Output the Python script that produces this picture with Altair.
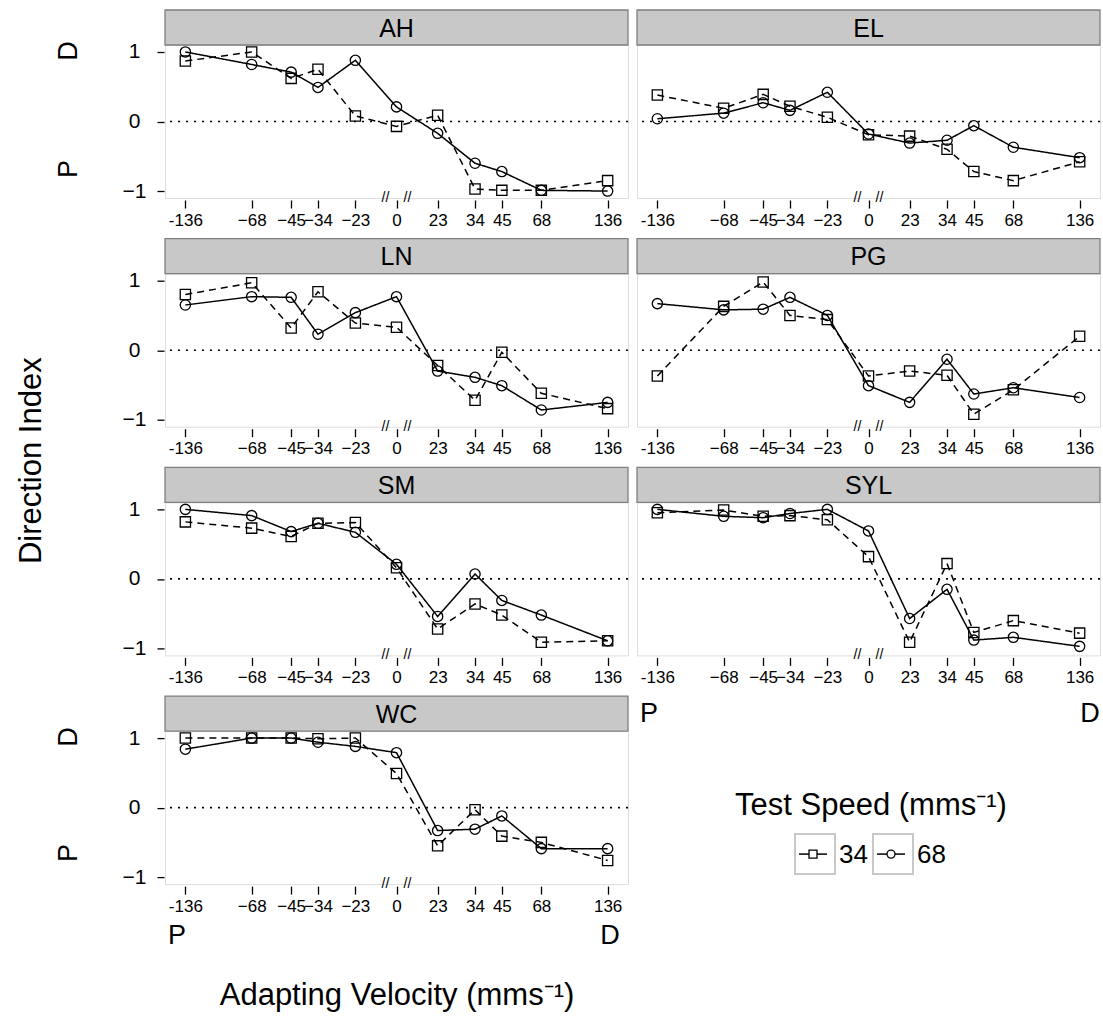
import altair as alt
import numpy as np
import pandas as pd

# ---------------- data ----------------
velocities = [-136, -68, -45, -34, -23, 0, 23, 34, 45, 68, 136]
tick_labels = ["-136", "\u221268", "\u221245", "\u221234", "\u221223", "0", "23", "34", "45", "68", "136"]
y_ticks = [-1, 0, 1]
y_tick_labels = ["\u22121", "0", "1"]
speeds = ["34", "68"]
subjects = ["AH", "EL", "LN", "PG", "SM", "SYL", "WC"]

AH_34 = [0.87, 1.0, 0.62, 0.75, 0.08, -0.07, 0.09, -0.97, -0.99, -0.99, -0.85]
AH_68 = [1.0, 0.82, 0.71, 0.49, 0.88, 0.21, -0.17, -0.60, -0.72, -0.99, -1.0]
EL_34 = [0.38, 0.19, 0.39, 0.22, 0.06, -0.19, -0.21, -0.40, -0.72, -0.85, -0.58]
EL_68 = [0.04, 0.12, 0.27, 0.16, 0.42, -0.18, -0.31, -0.27, -0.06, -0.37, -0.52]
LN_34 = [0.80, 0.97, 0.32, 0.84, 0.39, 0.33, -0.22, -0.72, -0.03, -0.62, -0.84]
LN_68 = [0.65, 0.77, 0.76, 0.23, 0.54, 0.77, -0.30, -0.39, -0.51, -0.86, -0.75]
PG_34 = [-0.37, 0.63, 0.98, 0.50, 0.44, -0.37, -0.30, -0.36, -0.92, -0.57, 0.20]
PG_68 = [0.67, 0.58, 0.59, 0.76, 0.50, -0.51, -0.75, -0.13, -0.63, -0.54, -0.68]
SM_34 = [0.82, 0.73, 0.61, 0.80, 0.81, 0.16, -0.72, -0.36, -0.52, -0.91, -0.89]
SM_68 = [1.0, 0.91, 0.68, 0.80, 0.67, 0.21, -0.54, 0.07, -0.31, -0.52, -0.89]
SYL_34 = [0.95, 0.99, 0.90, 0.91, 0.85, 0.32, -0.91, 0.22, -0.77, -0.60, -0.78]
SYL_68 = [1.0, 0.90, 0.88, 0.94, 1.0, 0.69, -0.57, -0.15, -0.88, -0.84, -0.97]
WC_34 = [1.0, 1.0, 1.0, 0.99, 1.0, 0.49, -0.55, -0.03, -0.41, -0.50, -0.76]
WC_68 = [0.84, 1.0, 1.0, 0.94, 0.88, 0.79, -0.33, -0.31, -0.12, -0.59, -0.59]

series = {
    "AH": (AH_34, AH_68), "EL": (EL_34, EL_68), "LN": (LN_34, LN_68),
    "PG": (PG_34, PG_68), "SM": (SM_34, SM_68), "SYL": (SYL_34, SYL_68),
    "WC": (WC_34, WC_68),
}

# ---------------- styling ----------------
FONT = "Liberation Sans"
W, H = 463, 153
STRIP_H = 35
FRAME = "#7f7f7f"
STRIP_FILL = "#c8c8c8"
GAP = 0.43  # broken-axis gap around 0 (in log units)
BREAK = 0.115
TITLE_SIZE = 31


def xpos(v):
    """Broken symmetric log position used by the original axis."""
    if v == 0:
        return 0.0
    return float(np.sign(v) * (np.log(abs(v) / 23.0) + GAP))


tick_pos = [round(xpos(v), 5) for v in velocities]
mids = [(tick_pos[i] + tick_pos[i + 1]) / 2 for i in range(len(tick_pos) - 1)]
expr = ""
for m, lab in zip(mids, tick_labels[:-1]):
    expr += f"datum.value < {m:.5f} ? '{lab}' : "
expr += f"'{tick_labels[-1]}'"

y_expr = f"datum.value < -0.5 ? '{y_tick_labels[0]}' : datum.value < 0.5 ? '{y_tick_labels[1]}' : '{y_tick_labels[2]}'"

xscale = alt.Scale(domain=[-2.42, 2.42], nice=False, zero=False)
yscale = alt.Scale(domain=[-1.1, 1.1], nice=False, zero=False)

xaxis = alt.Axis(values=tick_pos, labelExpr=expr, title=None, grid=False, domain=False,
                 tickSize=8, tickColor="black", tickWidth=1.3, offset=2,
                 labelFontSize=17, labelFont=FONT, labelColor="black", labelPadding=4,
                 labelFlush=False, labelOverlap=False)
yaxis = alt.Axis(values=y_ticks, labelExpr=y_expr, title=None, grid=False, domain=False,
                 tickSize=7, tickColor="black", tickWidth=1.3, offset=1,
                 labelAlign="center", labelBaseline="middle", labelPadding=23,
                 labelFontSize=21, labelFont=FONT, labelColor="black", labelFlush=False)


def txt(text, x, y, size, angle=0, align="center"):
    return alt.Chart(pd.DataFrame({"t": [text]})).mark_text(
        font=FONT, fontSize=size, color="black", angle=angle, align=align,
        baseline="middle").encode(x=alt.value(x), y=alt.value(y), text="t:N")


def panel(name, left, extras):
    s34, s68 = series[name]
    df = pd.DataFrame({
        "xpos": [xpos(v) for v in velocities] * 2,
        "di": list(s34) + list(s68),
        "speed": ["34"] * len(velocities) + ["68"] * len(velocities),
    })
    ya = yaxis if left else None
    X = alt.X("xpos:Q", scale=xscale, axis=xaxis)
    Y = alt.Y("di:Q", scale=yscale, axis=ya)

    zero = alt.Chart(pd.DataFrame({"di": [0.0]})).mark_rule(
        color="black", strokeDash=[2, 6], strokeWidth=1.6).encode(y=Y)
    lines = alt.Chart(df).mark_line(color="black", strokeWidth=1.5).encode(
        x=X, y=Y,
        strokeDash=alt.StrokeDash("speed:N", scale=alt.Scale(domain=speeds, range=[[7, 5], [1, 0]]),
                                  legend=None))
    points = alt.Chart(df).mark_point(filled=False, color="black", strokeWidth=1.3, size=105,
                                      opacity=1).encode(
        x=X, y=Y,
        shape=alt.Shape("speed:N", scale=alt.Scale(domain=speeds, range=["square", "circle"]),
                        legend=None))
    breaks = alt.Chart(pd.DataFrame({"xpos": [-BREAK, BREAK]})).mark_text(
        text="//", font=FONT, fontSize=14, color="black", baseline="middle").encode(
        x=X, y=alt.value(H))
    strip = alt.Chart(pd.DataFrame({"subject": [name]})).mark_rect(
        fill=STRIP_FILL, stroke=FRAME, strokeWidth=1.3).encode(
        x=alt.value(0), x2=alt.value(W), y=alt.value(-STRIP_H), y2=alt.value(0))
    strip_text = alt.Chart(pd.DataFrame({"subject": [name]})).mark_text(
        font=FONT, fontSize=25, color="black", baseline="middle").encode(
        x=alt.value(W / 2), y=alt.value(-STRIP_H / 2 + 1), text="subject:N")
    layers = [zero, lines, points, breaks, strip, strip_text] + extras
    return alt.layer(*layers).properties(width=W, height=H)


DP_X = -96
extras = {
    "AH": [txt("D", DP_X, 6, 27, 270), txt("P", DP_X, 124, 27, 270)],
    "LN": [txt("Direction Index", -133, 187, TITLE_SIZE, 270)],
    "WC": [txt("D", DP_X, 6, 27, 270), txt("P", DP_X, 122, 27, 270),
           txt("P", 12, 205, 27), txt("D", 445, 205, 27),
           txt("Adapting Velocity (mms\u207b\u00b9)", 232, 265, TITLE_SIZE)],
}

panels = [panel(s, i % 2 == 0, extras.get(s, [])) for i, s in enumerate(subjects)]

# ---------------- legend cell ----------------
leg_layers = [txt("P", 12, -17, 27), txt("D", 453, -17, 27),
              txt("Test Speed (mms\u207b\u00b9)", 234, 75, TITLE_SIZE)]
shapes = ["square", "circle"]
for i, sp in enumerate(speeds):
    x0 = 158 + i * 78
    d = pd.DataFrame({"speed": [sp]})
    leg_layers.append(alt.Chart(d).mark_rect(fill="white", stroke="#c8c8c8", strokeWidth=2).encode(
        x=alt.value(x0), x2=alt.value(x0 + 40), y=alt.value(103), y2=alt.value(143)))
    leg_layers.append(alt.Chart(d).mark_rule(color="black", strokeWidth=1.5).encode(
        x=alt.value(x0 + 4), x2=alt.value(x0 + 32), y=alt.value(123)))
    leg_layers.append(alt.Chart(d).mark_point(shape=shapes[i], filled=True, fill="white", stroke="black",
                                              strokeWidth=1.3, size=64, opacity=1).encode(
        x=alt.value(x0 + 18), y=alt.value(123)))
    leg_layers.append(alt.Chart(d).mark_text(font=FONT, fontSize=26, color="black", align="left",
                                             baseline="middle").encode(
        x=alt.value(x0 + 44), y=alt.value(124), text="speed:N"))
legend = alt.layer(*leg_layers).properties(width=W, height=H,
                                            view=alt.ViewBackground(stroke="transparent"))

chart = alt.concat(*panels, legend, columns=2, bounds="flush",
                   spacing={"row": 75.7, "column": 9}).properties(
    padding={"left": 15, "top": 8, "right": 0, "bottom": 0},
    background="white",
).configure_view(stroke=FRAME, strokeWidth=1.3).configure(font=FONT)

chart.save("out.html", embed_options={"renderer": "svg", "actions": False})
